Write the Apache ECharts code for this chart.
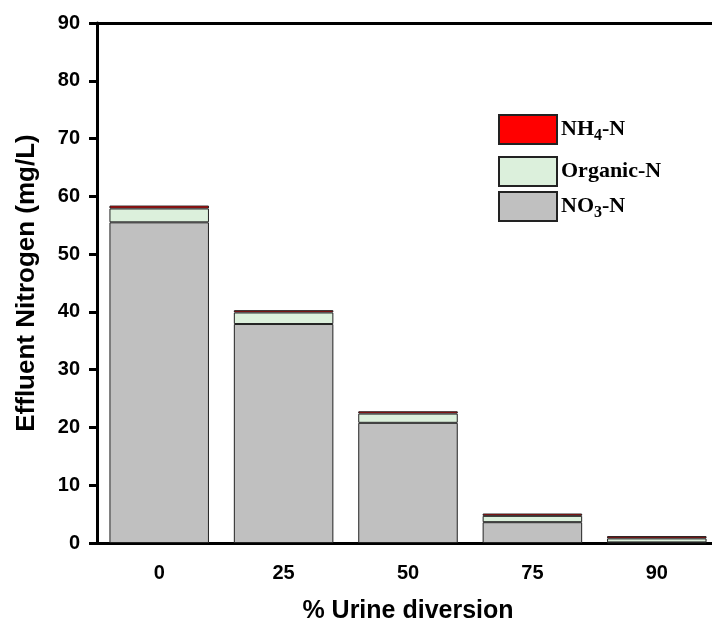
<!DOCTYPE html>
<html>
<head>
<meta charset="utf-8">
<script src="https://cdn.jsdelivr.net/npm/echarts@6/dist/echarts.min.js"></script>
<style>html,body{margin:0;padding:0;background:#fff}#c{width:712px;height:623px}</style>
</head>
<body>
<div id="c"></div>
<script>
const categories = ['0', '25', '50', '75', '90'];
const no3N = [55.5, 37.9, 20.8, 3.6, 0.1];
const organicN = [2.4, 2.0, 1.6, 1.1, 0.7];
const nh4N = [0.5, 0.4, 0.4, 0.4, 0.4];
const yTicks = [0, 10, 20, 30, 40, 50, 60, 70, 80, 90];

const chart = echarts.init(document.getElementById('c'));
const font = 'Liberation Sans, Arial, sans-serif';
const serif = 'Liberation Serif, Times New Roman, serif';
const rich = {
  a: {fontFamily: serif, fontWeight: 'bold', fontSize: 22, color: '#000'},
  s: {fontFamily: serif, fontWeight: 'bold', fontSize: 16, color: '#000', padding: [12, 0, 0, 0]}
};
function fmt(name) {
  if (name === 'NH4-N') return '{a|NH}{s|4}{a|-N}';
  if (name === 'NO3-N') return '{a|NO}{s|3}{a|-N}';
  return '{a|' + name + '}';
}
function legend(name, top) {
  return {
    data: [name], left: 493, top: top, orient: 'vertical',
    itemWidth: 58, itemHeight: 29, itemGap: 0, icon: 'rect',
    formatter: fmt, textStyle: {rich: rich, padding: [0, 0, 0, -1]},
    selectedMode: false
  };
}
const border = {borderColor: '#222', borderWidth: 1};
chart.setOption({
  animation: false,
  backgroundColor: '#fff',
  legend: [legend('NH4-N', 109), legend('Organic-N', 151), legend('NO3-N', 186)],
  grid: {left: 97, top: 23, width: 622, height: 520, containLabel: false, outerBoundsMode: 'none'},
  xAxis: [{
    type: 'category', data: categories, position: 'bottom',
    axisLine: {lineStyle: {color: '#000', width: 3}},
    axisTick: {alignWithLabel: true, length: 8, lineStyle: {color: '#000', width: 3}},
    axisLabel: {fontFamily: font, fontWeight: 'bold', fontSize: 20, color: '#000', margin: 20},
    name: '% Urine diversion', nameLocation: 'middle', nameGap: 56,
    nameTextStyle: {fontFamily: font, fontWeight: 'bold', fontSize: 25, color: '#000'}
  }, {
    type: 'category', data: categories, position: 'top',
    axisLine: {lineStyle: {color: '#000', width: 3}},
    axisTick: {show: false}, axisLabel: {show: false}
  }],
  yAxis: {
    type: 'value', min: 0, max: 90, interval: 10,
    axisLine: {show: true, lineStyle: {color: '#000', width: 3}},
    axisTick: {show: true, length: 8, lineStyle: {color: '#000', width: 3}},
    splitLine: {show: false},
    axisLabel: {fontFamily: font, fontWeight: 'bold', fontSize: 20, color: '#000', margin: 17,
      formatter: v => yTicks.includes(v) ? String(v) : ''},
    name: 'Effluent Nitrogen (mg/L)', nameLocation: 'middle', nameGap: 57,
    nameTextStyle: {fontFamily: font, fontWeight: 'bold', fontSize: 26, color: '#000'}
  },
  series: [
    {name: 'NO3-N', type: 'bar', stack: 'n', data: no3N, barWidth: '80%',
     itemStyle: Object.assign({color: '#c0c0c0'}, border)},
    {name: 'Organic-N', type: 'bar', stack: 'n', data: organicN, barWidth: '80%',
     itemStyle: Object.assign({color: '#dcf0dc'}, border)},
    {name: 'NH4-N', type: 'bar', stack: 'n', data: nh4N, barWidth: '80%',
     itemStyle: Object.assign({color: '#ff0000'}, border)}
  ]
});
</script>
</body>
</html>
